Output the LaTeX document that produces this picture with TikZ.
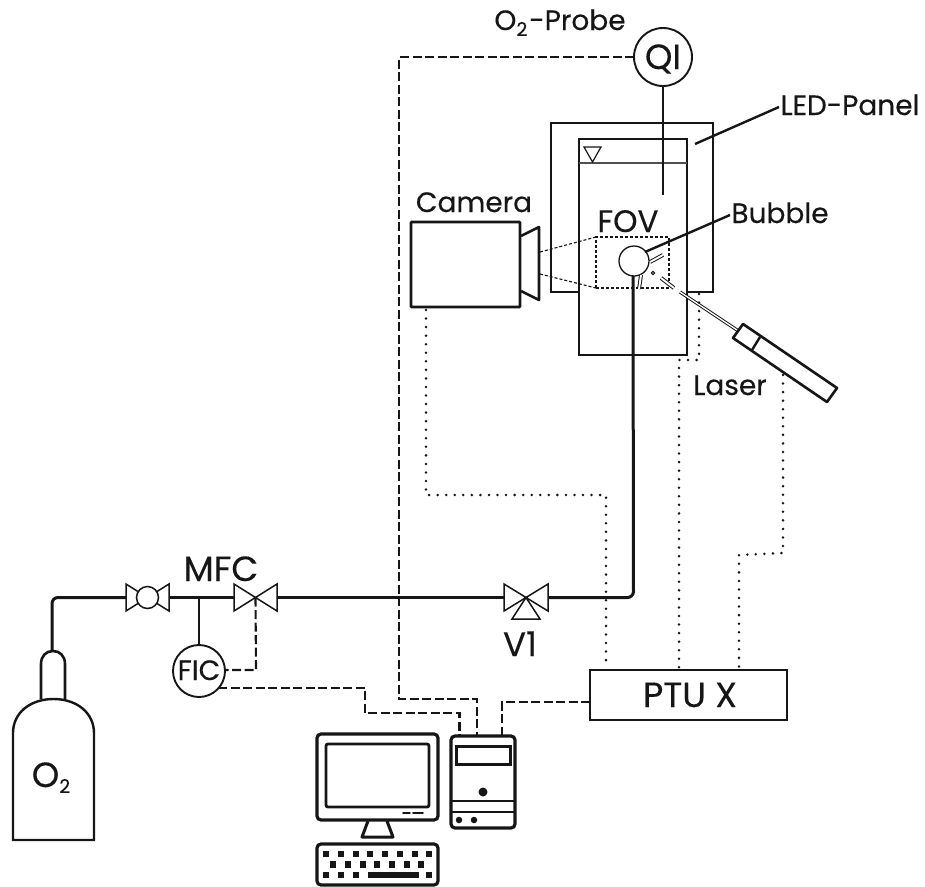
\documentclass[tikz,border=0pt]{standalone}
\usepackage{fontspec}
\setmainfont[FakeBold=0.25]{Poppins}
\definecolor{ink}{HTML}{161616}
\newcommand{\subtwo}[1]{\raisebox{-#1pt}{\fontsize{19}{19}\selectfont 2}}
\tikzset{
  txt/.style={inner sep=0pt,outer sep=0pt,anchor=base,text=ink,font=\fontsize{#1}{#1}\selectfont},
  wall/.style={draw=ink,line width=2.8pt,rectangle,inner sep=0pt,outer sep=0pt,fill=white},
  instr/.style={draw=ink,line width=1.9pt,circle,inner sep=0pt,outer sep=0pt,fill=white},
  pipe/.style={draw=ink,line width=3pt,rounded corners=6pt},
  thinpipe/.style={draw=ink,line width=2.4pt},
  sig/.style={draw=ink,line width=2.1pt,dash pattern=on 9pt off 3.5pt},
  dots/.style={draw=ink,line width=2.8pt,line cap=round,dash pattern=on 0pt off 8.55pt},
  fovl/.style={draw=ink,line width=1.1pt,dash pattern=on 3pt off 2pt},
  vlv/.style={draw=ink,line width=1.5pt,fill=white,line join=miter},
  leader/.style={draw=ink,line width=2.4pt},
  pc/.style={draw=ink,line width=3.2pt,rounded corners=4pt},
  keycap/.style={fill=ink,draw=none,rectangle,minimum size=6.5pt,inner sep=0pt},
  bar/.style={draw=ink,line width=1pt,double=white,double distance=1.9pt},
}
\begin{document}
\begin{tikzpicture}[x=1pt,y=-1pt]
\useasboundingbox (0,0) rectangle (925,886);

% LED panel and tank
\node[wall,minimum width=162pt,minimum height=169pt] (panel) at (632,207.5) {};
\node[wall,minimum width=108pt,minimum height=216pt] (tank) at (633,247) {};
\coordinate (wl) at (tank.west |- 0,163);
\coordinate (wr) at (tank.east |- 0,163);
\draw[draw=ink!75,line width=1.2pt] (wl) -- (wr);
\draw[draw=ink,line width=1.2pt] (584,147) -- (601,147) -- (592.5,162) -- cycle;

% Camera
\node[wall,minimum width=109pt,minimum height=85pt,rounded corners=.8pt] (camera) at (465.5,264.5) {};
\draw[draw=ink,line width=2.6pt,line join=round] (521,236) -- (539,227) -- (539,300) -- (521,291);

% FOV
\node[fovl,rectangle,minimum width=73pt,minimum height=51pt,inner sep=0pt,outer sep=0pt] (fov) at (632.5,262.5) {};
\coordinate (lensa) at (540,252);
\coordinate (lensb) at (540,274);
\draw[fovl] (lensa) -- (fov.north west);
\draw[fovl] (lensb) -- (fov.south west);

% Bubble and light streaks
\coordinate (bubbleline) at (633,276);
\node[draw=ink,line width=1.3pt,circle,minimum size=30pt,inner sep=0pt,outer sep=0pt,fill=white] (bubble) at (634,261) {};
\draw[bar] (650,262) -- (663,255);
\draw[bar] (641,275) -- (639,289);
\draw[bar] (661,278) -- (674,288);
\draw[draw=ink,line width=1.1pt] (653,273) circle (1.6pt);

% Laser
\coordinate (beama) at (680,292);
\coordinate (beamb) at (737,330);
\draw[draw=ink,line width=1pt,double=white,double distance=1.3pt] (beama) -- (beamb);
\draw[draw=ink,line width=2.6pt,fill=white,line join=round] (743,324) -- (733,338) -- (827,402) -- (837,388) -- cycle;
\draw[draw=ink,line width=2.4pt] (760,337) -- (752,350);

% QI probe
\node[instr,minimum size=58pt] (qi) at (663,57) {};
\coordinate (probeend) at (663,195);
\draw[thinpipe] (qi.south) -- (probeend);

% Leaders
\coordinate (ledend) at (695,144);
\coordinate (ledlab) at (779,107);
\draw[leader] (ledend) -- (ledlab);
\coordinate (bubend) at (645,252);
\coordinate (bublab) at (730,215);
\draw[leader] (bubend) -- (bublab);

% Bottle
\draw[draw=ink,line width=2.4pt] (13,840) -- (13,733)
   .. controls (13,713) and (30,699) .. (53.5,699)
   .. controls (77,699) and (94,713) .. (94,733) -- (94,840) -- cycle;
\draw[draw=ink,line width=2.6pt] (41,699) -- (41,664)
   .. controls (41,656) and (46,651) .. (53,651)
   .. controls (60,651) and (65,656) .. (65,664) -- (65,699);
\coordinate (bottle) at (52,651);

% Valve V0 (ball)
\coordinate (v0l) at (126,597.5);
\coordinate (v0r) at (169,597.5);
\coordinate (v0c) at (147.5,597.5);
\draw[vlv] (126,584) -- (126,611) -- (147.5,597.5) -- cycle;
\draw[vlv] (169,584) -- (169,611) -- (147.5,597.5) -- cycle;
\node[draw=ink,line width=1.5pt,circle,minimum size=22pt,inner sep=0pt,fill=white] (ball) at (v0c) {};

% MFC valve
\coordinate (mfcl) at (234,597.5);
\coordinate (mfcr) at (277,597.5);
\coordinate (mfcc) at (255.5,597.5);
\draw[vlv] (234,584) -- (234,611) -- (mfcc) -- cycle;
\draw[vlv] (277,584) -- (277,611) -- (mfcc) -- cycle;

% V1
\coordinate (v1l) at (504,597.5);
\coordinate (v1r) at (548,597.5);
\coordinate (v1c) at (526,597.5);
\draw[vlv] (504,584) -- (504,611) -- (v1c) -- cycle;
\draw[vlv] (548,584) -- (548,611) -- (v1c) -- cycle;
\draw[vlv] (v1c) -- (512,619) -- (540,619) -- cycle;

% Pipes
\coordinate (corner1) at (52,597.5);
\coordinate (corner2) at (633.5,597.5);
\coordinate (tap) at (199,597.5);
\draw[pipe] (bottle) -- (corner1) -- (v0l);
\draw[pipe] (v0r) -- (mfcl);
\draw[pipe] (mfcr) -- (v1l);
\draw[pipe] (v1r) -- (corner2) -- (bubbleline);

% FIC
\node[instr,minimum size=52pt] (fic) at (199,671) {};
\draw[thinpipe] (tap) -- (fic.north);

% PTU
\node[draw=ink,line width=2.6pt,rectangle,inner sep=0pt,outer sep=0pt,minimum width=197pt,minimum height=50pt,fill=white] (ptu) at (688.5,695) {};

% Computer
\node[pc,rectangle,minimum width=121pt,minimum height=86pt,inner sep=0pt,outer sep=0pt] (monitor) at (377.5,777) {};
\node[draw=ink,line width=2.8pt,rounded corners=2pt,rectangle,minimum width=103pt,minimum height=63pt,inner sep=0pt] (screen) at (377.5,775.5) {};
\draw[draw=ink,line width=1.9pt,line cap=round] (403,813) -- (410,813) (413,813) -- (423,813);
\draw[draw=ink,line width=3pt,line join=round] (368,821) -- (362,837) -- (393,837) -- (387,821);
\node[pc,rectangle,minimum width=121pt,minimum height=41pt,inner sep=0pt,outer sep=0pt] (keyboard) at (377.5,864.5) {};
\foreach \k/\x/\y in {a/326/854,b/341/854,c/356/854,d/370/854,e/385/854,f/400/854,g/415/854,h/429/854,
  i/333/864.5,j/348/864.5,k/363/864.5,l/377/864.5,m/392/864.5,n/407/864.5,o/421/864.5,
  p/326/875,q/341/875,r/356/875,s/429/875}
  \node[keycap] (key\k) at (\x,\y) {};
\node[keycap,minimum width=51pt] (spacebar) at (393.5,875) {};

\node[pc,rectangle,minimum width=64pt,minimum height=92pt,inner sep=0pt,outer sep=0pt] (tower) at (483,782) {};
\node[draw=ink,line width=3pt,rectangle,minimum width=54pt,minimum height=18pt,inner sep=0pt] (towerscreen) at (483,755) {};
\node[fill=ink,circle,minimum size=9pt,inner sep=0pt] (led) at (483,792) {};
\draw[draw=ink,line width=2.6pt] (tower.west |- 0,801) -- (tower.east |- 0,801);
\draw[draw=ink,line width=2.6pt] (tower.west |- 0,812) -- (tower.east |- 0,812);
\node[fill=ink,circle,minimum size=6.5pt,inner sep=0pt] (btna) at (459,820) {};
\node[fill=ink,circle,minimum size=6.5pt,inner sep=0pt] (btnb) at (474,820) {};

% Signal lines (dashed)
\coordinate (qitopleft) at (399,57);
\coordinate (qi2) at (399,699);
\coordinate (qi3) at (477,699);
\coordinate (qi4) at (477,736);
\draw[sig] (qi.west) -- (qitopleft) -- (qi2) -- (qi3) -- (qi4);
\coordinate (stem) at (256,670);
\draw[sig] (mfcc) -- (stem) -- (fic.east |- stem);
\coordinate (f1) at (218,688);
\coordinate (f2) at (365,688);
\coordinate (f3) at (365,713);
\coordinate (f4) at (459.5,713);
\coordinate (f5) at (459.5,736);
\draw[sig] (f1) -- (f2) -- (f3) -- (f4) -- (f5);
\coordinate (p1) at (502,702);
\coordinate (p2) at (502,736);
\draw[sig] (ptu.west |- p1) -- (p1) -- (p2);

% Signal lines (dotted)
\coordinate (c1) at (426,310);
\coordinate (c2) at (426,495);
\coordinate (c3) at (606,495);
\coordinate (c4) at (606,664);
\draw[dots] (c1) -- (c2) -- (c3) -- (c4);
\coordinate (l1) at (699,294);
\coordinate (l2) at (699,360);
\coordinate (l3) at (679,360);
\coordinate (l4) at (679,669);
\draw[dots] (l1) -- (l2) -- (l3) -- (l4);
\coordinate (m1) at (783,375);
\coordinate (m2) at (783,553);
\coordinate (m3) at (739,555);
\coordinate (m4) at (739,669);
\draw[dots] (m1) -- (m2) -- (m3) -- (m4);

% Labels
\node[txt=28] (lblprobe) at (560,30) {O\subtwo{6}\kern2pt-Probe};
\node[txt=28] (lblled) at (850,115) {LED-Panel};
\node[txt=28] (lblcam) at (474,212) {Camera};
\node[txt=31] (lblfov) at (628,232) {FOV};
\node[txt=28] (lblbub) at (780,223) {Bubble};
\node[txt=28] (lbllas) at (730,395) {Laser};
\node[txt=35] (lblqi) at (663,69) {QI};
\node[txt=35] (lblmfc) at (221,581) {MFC};
\node[txt=34] (lblv) at (520,656) {V1};
\node[txt=35] (lblptu) at (690,707) {PTU X};
\node[txt=28] (lblfic) at (199,680) {FIC};
\node[txt=35] (lblo) at (51,787) {O\subtwo{6}};
\end{tikzpicture}
\end{document}
